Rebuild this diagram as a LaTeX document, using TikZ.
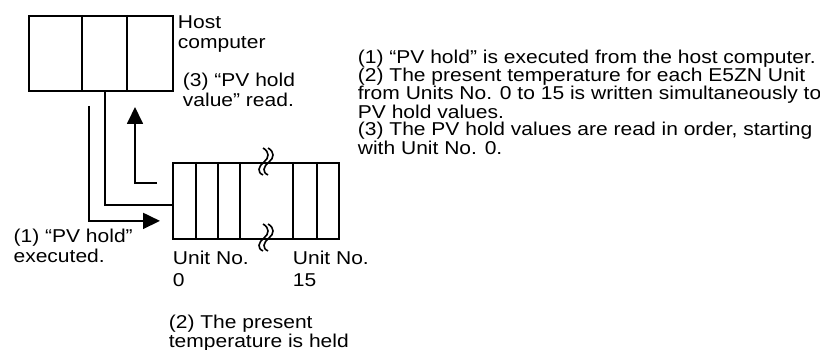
\documentclass[tikz,border=0pt]{standalone}
\usepackage{fontspec}
\setmainfont{Liberation Sans}[FakeStretch=1.13]
\usetikzlibrary{arrows.meta}

\begin{document}
\begin{tikzpicture}[x=1pt,y=-1pt,line width=1.8pt,
  txt/.style={anchor=base west,inner sep=0pt,align=left,
    font=\fontsize{18.6}{20}\selectfont},
  flow/.style={-{Triangle[length=17pt,width=16pt]}},
  brk/.style={line width=1.6pt}]
  \useasboundingbox (0,0) rectangle (820,350);
  \node[draw,minimum width=144pt,minimum height=75pt,inner sep=0pt,
    anchor=north west] (host) at (28,15) {};
  \foreach \x in {54,99}
    \draw ([xshift=\x pt]host.north west) -- ([xshift=\x pt]host.south west);
  \node[draw,minimum width=166pt,minimum height=76pt,inner sep=0pt,
    anchor=north west] (rack) at (172,162) {};
  \foreach \x in {24,46,68,121,145}
    \draw ([xshift=\x pt]rack.north west) -- ([xshift=\x pt]rack.south west);
  \foreach \y in {162,238}
    \foreach \dx in {0,5}
      \draw[brk] (263+\dx,\y-14) .. controls (270+\dx,\y-10) and (269+\dx,\y-4) .. (264+\dx,\y)
        .. controls (258+\dx,\y+5) and (257+\dx,\y+10) .. (263+\dx,\y+13);
  \coordinate (cmdstart) at (89,106);
  \coordinate (readtip) at (135,107);
  \draw ([xshift=4pt]host.south) |- ([yshift=-4pt]rack.west);
  \draw[flow] (cmdstart) |- ([xshift=-12pt,yshift=-20pt]rack.west);
  \draw[flow] ([xshift=-15pt,yshift=18pt]rack.west) -| (readtip);
  \node[txt] (hostlbl) at (177,48.3) {Host\\computer};
  \node[txt] (readlbl) at (182,106.7) {(3) “PV hold\\value” read.};
  \node[txt] (execlbl) at (12.7,262.7) {(1) “PV hold”\\executed.};
  \node[txt] (unitfirst) at (172,286) {Unit No.\\[1.7pt]0};
  \node[txt] (unitlast) at (292,286) {Unit No.\\[1.7pt]15};
  \node[txt] (heldlbl) at (168,347) {(2) The present\\[-1pt]temperature is held};
  \node[txt,font=\fontsize{18.6}{16.6}\selectfont] (notes) at (357,154.3)
    {(1) “PV hold” is executed from the host computer.\\
     (2) The present temperature for each E5ZN Unit\\
     from Units No. 0 to 15 is written simultaneously to\\
     PV hold values.\\[1.2pt]
     (3) The PV hold values are read in order, starting\\
     with Unit No. 0.};
\end{tikzpicture}
\end{document}
